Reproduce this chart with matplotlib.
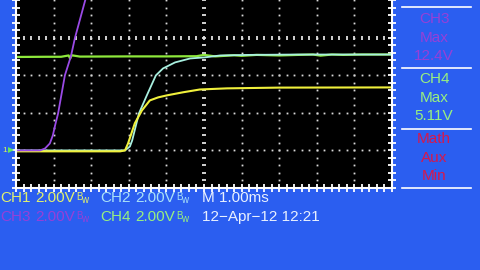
import numpy as np
import matplotlib.pyplot as plt
from matplotlib.lines import Line2D

plt.rcParams['font.family'] = ['Liberation Sans', 'DejaVu Sans']

# scope screen: 1 ms/div, 2 V/div, time 0 at screen centre
ch3_t = [-5.0, -4.6, -4.36, -4.23, -4.10, -4.02, -3.96, -3.88, -3.70, -3.54, -3.43, -3.16, -2.8, -2.4]
ch3_v = [0.0, 0.0, 0.0, 0.1, 0.37, 0.8, 1.33, 1.97, 3.99, 5.0, 6.0, 7.98, 10.0, 12.4]

ch2_t = [-5.0, -2.4, -2.10, -1.97, -1.91, -1.73, -1.52, -1.28, -1.09, -0.77, -0.37, 0.03, 0.43, 1.2, 2.5, 5.0]
ch2_v = [0.0, 0.0, 0.0, 0.21, 0.53, 1.97, 2.93, 3.99, 4.36, 4.68, 4.89, 4.95, 5.05, 5.08, 5.10, 5.10]

ch1_t = [-5.0, -2.23, -2.10, -2.02, -1.84, -1.65, -1.44, -1.22, -0.98, -0.56, -0.11, 0.61, 2.0, 5.0]
ch1_v = [-0.05, -0.05, 0.0, 0.37, 1.44, 2.13, 2.66, 2.82, 2.93, 3.09, 3.24, 3.30, 3.34, 3.35]

ch4_t = [-5.0, -4.2, -3.8, -3.6, -3.56, -3.52, -3.3, -2.0, -1.0, -0.2, 0.0, 0.3, 0.8, 1.0, 1.4, 2.0, 2.5, 2.9, 3.1, 3.4, 3.7, 4.2, 5.0]
ch4_v = [4.97, 4.98, 4.98, 5.05, 4.88, 5.06, 4.99, 5.0, 5.0, 5.01, 5.08, 5.0, 5.06, 5.03, 5.08, 5.05, 5.08, 5.1, 5.04, 5.1, 5.08, 5.1, 5.1]

side_labels = [("CH3", "Max", "12.4V"), ("CH4", "Max", "5.11V"), ("Math", "Aux", "Min")]
side_colors = ["#9640d8", "#98f080", "#d8184a"]

BG = "#2b5ef0"
fig = plt.figure(figsize=(4.8, 2.7), dpi=100, facecolor=BG)

ax = fig.add_axes([16 / 480, 82 / 270, 376 / 480, 188 / 270])
ax.set_facecolor("black")
ax.set_xlim(-5, 5)
ax.set_ylim(-2, 8)
ax.set_xticks([])
ax.set_yticks([])
for side in ["left", "bottom", "right"]:
    ax.spines[side].set_color("white")
    ax.spines[side].set_linewidth(1.5)
ax.spines["top"].set_visible(False)

# graticule
minor_x = np.arange(-5, 5.01, 0.2)
minor_y = np.arange(-2, 8.01, 0.4)
for gx in [-4, -3, -2, -1, 1, 2, 3, 4]:
    ax.plot(np.full(minor_y.size, gx), minor_y, ls="none", marker="s", ms=1.3, color="#d8d8d8", mew=0)
for gy in [0, 2, 4]:
    ax.plot(minor_x, np.full(minor_x.size, gy), ls="none", marker="s", ms=1.3, color="#d8d8d8", mew=0)
ax.plot(minor_x, np.full(minor_x.size, 6), ls="none", marker="|", ms=3.5, mew=1.3, color="#e0e0e0")
ax.plot(np.zeros(minor_y.size), minor_y, ls="none", marker="_", ms=3.5, mew=1.3, color="#e0e0e0")
ax.plot(minor_x, np.full(minor_x.size, -2), ls="none", marker="|", ms=6, mew=1.3, color="white", clip_on=False)
ax.plot(np.full(minor_y.size, -5), minor_y, ls="none", marker="_", ms=6, mew=1.3, color="white", clip_on=False)
ax.plot(np.full(minor_y.size, 5), minor_y, ls="none", marker="_", ms=6, mew=1.3, color="white", clip_on=False)

# traces
ax.plot(ch4_t, ch4_v, color="#8ee83c", lw=1.6)
ax.plot(ch2_t, ch2_v, color="#a8f0e0", lw=1.3)
ax.plot(ch1_t, ch1_v, color="#f0f03c", lw=1.5)
ax.plot(ch3_t, ch3_v, color="#9a4ae6", lw=1.3)

# overlay in pixel coordinates for the screen texts
ov = fig.add_axes([0, 0, 1, 1], facecolor="none")
ov.set_xlim(0, 480)
ov.set_ylim(270, 0)
ov.axis("off")

# ground marker
ov.plot([11], [150], marker=">", ms=5, color="#60e860", mew=0)
ov.text(5, 150, "1", color="#d8f060", fontsize=6, ha="center", va="center")

# side panel
for yy in [7, 68, 129, 188]:
    ov.add_line(Line2D([402, 471], [yy, yy], color="white", lw=1.2))
ov.text(434, -7, "5.12V", color="#a8e8f0", fontsize=11, ha="center", va="center")
for i, (lab, col) in enumerate(zip(side_labels, side_colors)):
    y0 = 19 + i * 60
    for j, s in enumerate(lab):
        ov.text(434, y0 + j * 18.5, s, color=col, fontsize=11, ha="center", va="center")

# bottom status lines
row1, row2 = 198, 217
ov.text(0, row1, "CH1", color="#e0f070", fontsize=11, va="center")
ov.text(35, row1, "2.00V", color="#e0f070", fontsize=11, va="center")
ov.text(100, row1, "CH2", color="#a8e0f8", fontsize=11, va="center")
ov.text(135, row1, "2.00V", color="#a8e0f8", fontsize=11, va="center")
ov.text(0, row2, "CH3", color="#9640d8", fontsize=11, va="center")
ov.text(35, row2, "2.00V", color="#9640d8", fontsize=11, va="center")
ov.text(100, row2, "CH4", color="#98f080", fontsize=11, va="center")
ov.text(135, row2, "2.00V", color="#98f080", fontsize=11, va="center")
for bx, by, col in [(76, row1, "#e0f070"), (176, row1, "#a8e0f8"), (76, row2, "#9640d8"), (176, row2, "#98f080")]:
    ov.text(bx, by - 1, "B", color=col, fontsize=7, va="center")
    ov.text(bx + 5, by + 2, "w", color=col, fontsize=7, va="center")
ov.text(202, row1, "M 1.00ms", color="#e8f0ff", fontsize=11, va="center")
ov.text(202, row2, "12\u2212Apr\u221212 12:21", color="#e8f0ff", fontsize=11, va="center")

fig.savefig("out.png", dpi=100, facecolor=BG)
